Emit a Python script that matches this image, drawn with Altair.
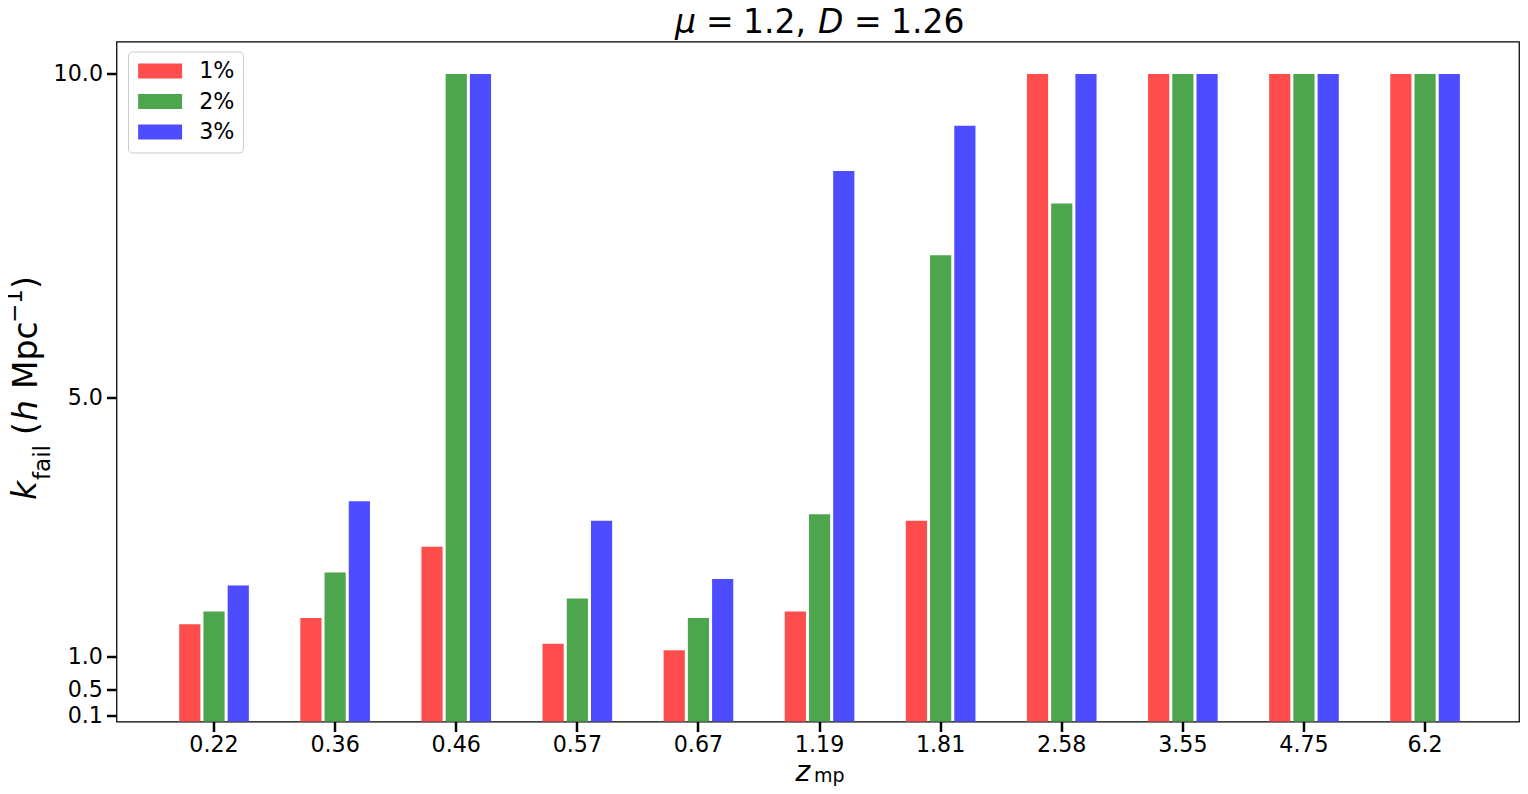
import altair as alt
import pandas as pd

zmp = ["0.22", "0.36", "0.46", "0.57", "0.67", "1.19", "1.81", "2.58", "3.55", "4.75", "6.2"]
series = ["1%", "2%", "3%"]
k1 = [1.5, 1.6, 2.7, 1.2, 1.1, 1.7, 3.1, 10.0, 10.0, 10.0, 10.0]
k2 = [1.7, 2.3, 10.0, 1.9, 1.6, 3.2, 7.2, 8.0, 10.0, 10.0, 10.0]
k3 = [2.1, 3.4, 10.0, 3.1, 2.2, 8.5, 9.2, 10.0, 10.0, 10.0, 10.0]
colors = ["#ff4d4d", "#4da64d", "#4d4dff"]
yticks = [0.1, 0.5, 1.0, 5.0, 10.0]

rows = []
for s, vals in zip(series, [k1, k2, k3]):
    for z, v in zip(zmp, vals):
        rows.append({"zmp": z, "pct": s, "k": v})
df = pd.DataFrame(rows)

FONT = "DejaVu Sans"
LFS = 22.2

bars = alt.Chart(df).mark_bar().encode(
    x=alt.X("zmp:N", sort=zmp, title=None,
            scale=alt.Scale(paddingInner=0.4, paddingOuter=0, range=[61.2, 1344.9]),
            axis=alt.Axis(labelAngle=0, labelFontSize=LFS, labelColor="black", labelFont=FONT,
                          tickSize=10, tickWidth=2.5, tickColor="black", labelPadding=2,
                          domain=False, grid=False)),
    xOffset=alt.XOffset("pct:N", sort=series,
                        scale=alt.Scale(paddingInner=0.125, paddingOuter=0.0625)),
    y=alt.Y("k:Q", title=None, scale=alt.Scale(domain=[0, 10.5], nice=False, zero=True),
            axis=alt.Axis(values=yticks, format=".1f", labelFontSize=LFS, labelColor="black",
                          labelFont=FONT, tickSize=10, tickWidth=2.5, tickColor="black",
                          labelPadding=4, domain=False, grid=False)),
    color=alt.Color("pct:N", sort=series, title=None,
                    scale=alt.Scale(domain=series, range=colors),
                    legend=alt.Legend(orient="none", legendX=11.5, legendY=10,
                                      symbolType="M-2.93,-1H2.93V1H-2.93Z", symbolSize=225,
                                      symbolStrokeWidth=0, symbolOpacity=1, symbolOffset=12.5,
                                      labelFontSize=LFS, labelFont=FONT, labelColor="black",
                                      labelOffset=28, rowPadding=7.5, padding=8.5,
                                      cornerRadius=4, strokeColor="#cccccc", fillColor="white")),
)


def txt(s, x, y, size, italic=False, angle=0):
    return alt.Chart(pd.DataFrame({"t": [s]})).mark_text(
        align="left", baseline="alphabetic", font=FONT, fontSize=size,
        fontStyle="italic" if italic else "normal", angle=angle, color="black"
    ).encode(text="t:N", x=alt.value(x), y=alt.value(y))


TY = -9.0
TX = 3
title_parts = [
    txt("μ", 555.5 + TX, TY, 33, True),
    txt("=", 586.5 + TX, TY, 33),
    txt("1.2,", 623.5 + TX, TY, 33),
    txt("D", 698.5 + TX, TY, 33, True),
    txt("=", 734.5 + TX, TY, 33),
    txt("1.26", 771.5 + TX, TY, 33),
]

xlab = [
    txt("z", 679.0, 739.0, 28, True),
    txt("mp", 697.5, 740.5, 19),
]

ylab = [
    txt("k", -80.5, 458.5, 33, True, 270),
    txt("fail", -66.5, 438.5, 23, False, 270),
    txt("(", -79.5, 393.5, 33, False, 270),
    txt("h", -79.5, 379.5, 33, True, 270),
    txt("Mpc", -79.5, 347.5, 33, False, 270),
    txt("−1", -94.5, 281.5, 23, False, 270),
    txt(")", -79.5, 247.5, 33, False, 270),
]

chart = alt.layer(bars, *title_parts, *xlab, *ylab).properties(
    width=1402.5, height=680,
    background="white",
    autosize=alt.AutoSizeParams(type="none"),
    padding={"left": 108.5, "top": 33.5, "right": 1, "bottom": 64},
).configure_view(stroke="black", strokeWidth=1.25)

chart.save("out.html", embed_options={"renderer": "svg", "actions": False})
